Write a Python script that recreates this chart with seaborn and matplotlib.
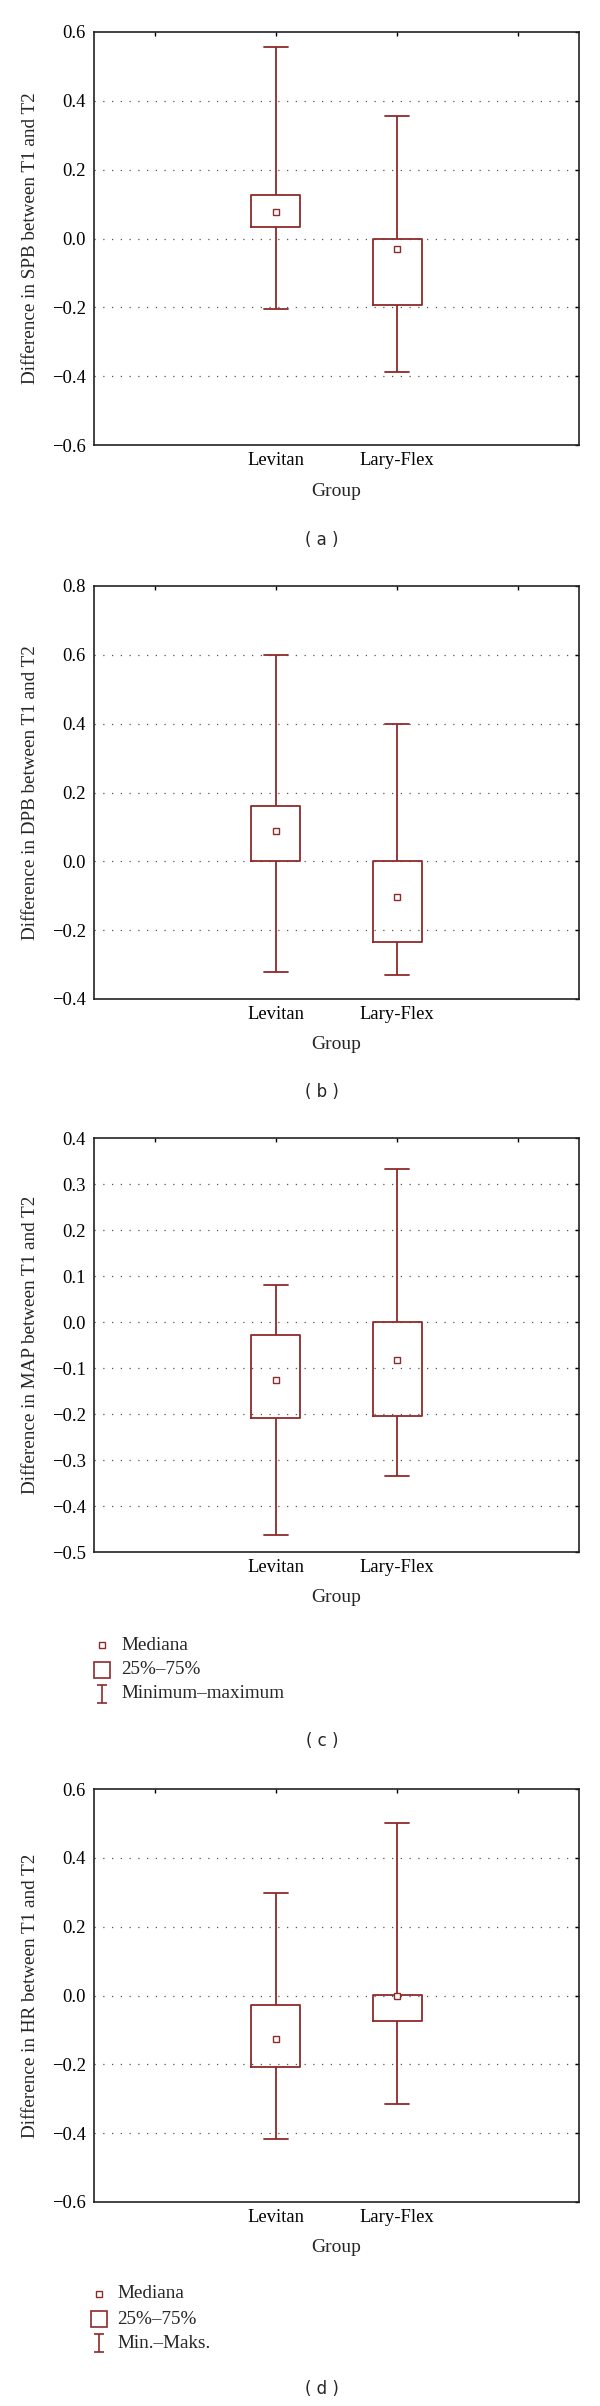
import numpy as np
import pandas as pd
import seaborn as sns
import matplotlib.pyplot as plt
from matplotlib.lines import Line2D
from matplotlib.path import Path

# groups on the x axis
groups = ["Levitan", "Lary-Flex"]

# five-number summaries: min, q1, median, q3, max
spb_levitan = [-0.205, 0.034, 0.076, 0.125, 0.555]
spb_laryflex = [-0.388, -0.194, -0.031, 0.0, 0.356]

dpb_levitan = [-0.322, 0.0, 0.088, 0.160, 0.600]
dpb_laryflex = [-0.329, -0.234, -0.104, 0.0, 0.400]

map_levitan = [-0.464, -0.209, -0.126, -0.029, 0.081]
map_laryflex = [-0.334, -0.204, -0.082, 0.0, 0.333]

hr_levitan = [-0.416, -0.208, -0.127, -0.028, 0.299]
hr_laryflex = [-0.316, -0.074, 0.002, 0.0, 0.502]

ylabels = ["Difference in SPB between T1 and T2",
           "Difference in DPB between T1 and T2",
           "Difference in MAP between T1 and T2",
           "Difference in HR between T1 and T2"]
yticks = [[-0.6, -0.4, -0.2, 0.0, 0.2, 0.4, 0.6],
          [-0.4, -0.2, 0.0, 0.2, 0.4, 0.6, 0.8],
          [-0.5, -0.4, -0.3, -0.2, -0.1, 0.0, 0.1, 0.2, 0.3, 0.4],
          [-0.6, -0.4, -0.2, 0.0, 0.2, 0.4, 0.6]]
panel_tags = ["( a )", "( b )", "( c )", "( d )"]
legend_labels_c = ["Mediana", "25%\u201375%", "Minimum\u2013maximum"]
legend_labels_d = ["Mediana", "25%\u201375%", "Min.\u2013Maks."]

series = [(spb_levitan, spb_laryflex), (dpb_levitan, dpb_laryflex),
          (map_levitan, map_laryflex), (hr_levitan, hr_laryflex)]

RED = "#8E2A2A"

sns.set_style("white")
plt.rcParams["font.family"] = ["Liberation Serif", "DejaVu Serif"]

W, H = 600.0, 2406.0
fig = plt.figure(figsize=(6, 24.06), dpi=100)

# axes frames in pixels (top, bottom); left/right shared
boxes = [(32, 445), (586, 999), (1138, 1552), (1789, 2202)]
LEFT, RIGHT = 94, 579

for i, (lev, lar) in enumerate(series):
    top, bot = boxes[i]
    h = bot - top
    ax = fig.add_axes([LEFT / W, 1 - bot / H, (RIGHT - LEFT) / W, h / H])

    # 5 points per group -> quantiles land exactly on the summary values
    df = pd.DataFrame({
        "Group": [groups[0]] * 5 + [groups[1]] * 5,
        "value": lev + lar,
    })

    sns.boxplot(data=df, x="Group", y="value", order=groups, whis=(0, 100),
                width=0.405, fill=False, color=RED, linecolor=RED,
                linewidth=1.3, showfliers=False,
                medianprops={"visible": False}, ax=ax)
    sns.pointplot(data=df, x="Group", y="value", order=groups,
                  estimator="median", errorbar=None, markers="s",
                  linestyle="none", color=RED, markersize=5,
                  markerfacecolor="white", markeredgewidth=1.0, ax=ax)

    ax.set_xlim(-1.5, 2.5)
    ax.set_xticks([-1, 0, 1, 2], ["", groups[0], groups[1], ""])
    ax.set_ylim(yticks[i][0], yticks[i][-1])
    ax.set_yticks(yticks[i])
    ax.yaxis.set_major_formatter(plt.FuncFormatter(
        lambda v, p: f"{v:.1f}".replace("-", "\u2212")))

    for y in yticks[i][1:-1]:
        ax.axhline(y, color="#555555", lw=0.9, ls=(0, (1, 6)), zorder=0)

    ax.tick_params(direction="in", length=3, width=1, top=True, right=True,
                   labelsize=13.4, pad=6, colors="black")
    ax.tick_params(axis="x", pad=5)
    for s in ax.spines.values():
        s.set_color("#222222")
        s.set_linewidth(1.2)

    ax.set_xlabel("Group", fontsize=14)
    ax.xaxis.set_label_coords(0.5, -46 / h)
    ax.xaxis.label.set_verticalalignment("center")
    ax.set_ylabel(ylabels[i], fontsize=13.8)
    ax.yaxis.set_label_coords(-(LEFT - 30.5) / (RIGHT - LEFT), 0.5)
    ax.yaxis.label.set_verticalalignment("center")

# panel tags (sans serif)
tag_y = [540, 1092, 1741, 2389]
for t, y in zip(panel_tags, tag_y):
    fig.text(322 / W, 1 - y / H, t, ha="center", va="center",
             family="DejaVu Sans", fontsize=12)

# legend glyphs below panels c and d
whisker_path = Path([(-0.5, -1), (0.5, -1), (0, -1), (0, 1), (-0.5, 1), (0.5, 1)],
                    [Path.MOVETO, Path.LINETO, Path.MOVETO, Path.LINETO,
                     Path.MOVETO, Path.LINETO])
glyphs = [dict(marker="s", markersize=5, mfc="white", mew=1.0),
          dict(marker="s", markersize=11, mfc="white", mew=1.2),
          dict(marker=whisker_path, markersize=13, mfc="none", mew=1.2)]

for labels, xm, xt, rows in [(legend_labels_c, 102, 121, [1645, 1670, 1694]),
                             (legend_labels_d, 98.5, 117.5, [2294, 2319, 2343])]:
    for lab, g, y in zip(labels, glyphs, rows):
        fig.add_artist(Line2D([xm / W], [1 - y / H], transform=fig.transFigure,
                              ls="none", mec=RED, **g))
        fig.text(xt / W, 1 - y / H, lab, ha="left", va="center", fontsize=13.8)

fig.savefig("out.png", dpi=100)
